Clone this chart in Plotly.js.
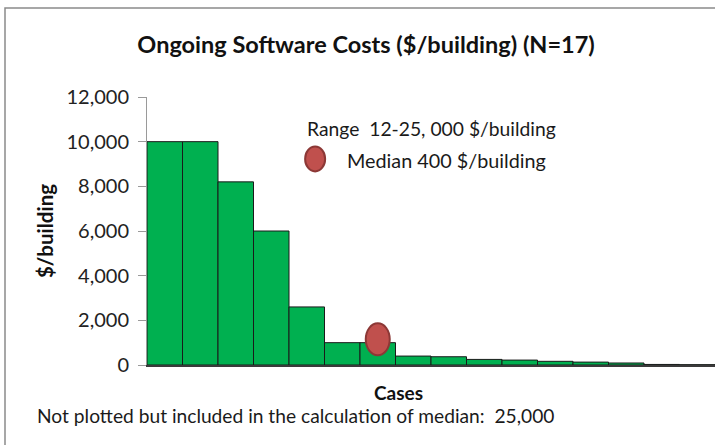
<!DOCTYPE html>
<html>
<head>
<meta charset="utf-8">
<script src="https://cdn.plot.ly/plotly-3.0.1.min.js"></script>
<style>
html,body{margin:0;padding:0;background:#fff;}
#chart{width:715px;height:445px;}
</style>
</head>
<body>
<div id="chart"></div>
<script>
// Data
const cases = [1,2,3,4,5,6,7,8,9,10,11,12,13,14,15,16];
const costs = [10000,10000,8200,6000,2600,1000,1000,400,370,250,220,165,130,90,25,12];
const medianCase = [7];
const medianMarkY = [1150];
const yTicks = [0,2000,4000,6000,8000,10000,12000];
const titleText = "Ongoing Software Costs ($/building) (N=17)";
const yTitle = "$/building";
const xTitle = "Cases";
const rangeText = "Range  12-25, 000 $/building";
const medianText = "Median 400 $/building";
const noteText = "Not plotted but included in the calculation of median:  25,000";

const FONT = "Lato, 'Open Sans', sans-serif";
const red = "#c0504d", redDark = "#8c3836";

const bars = {
  type: "bar",
  x: cases,
  y: costs,
  marker: {color: "#00b050", line: {color: "#1a1a1a", width: 1}},
  hoverinfo: "x+y"
};

const layout = {
  width: 715, height: 445,
  margin: {l: 147, r: 0, t: 97, b: 80},
  paper_bgcolor: "#fff", plot_bgcolor: "#fff",
  showlegend: false,
  bargap: 0,
  font: {family: FONT, color: "#1a1a1a"},
  title: {text: "<b>" + titleText + "</b>", font: {family: FONT, size: 23.5, color: "#111"},
          xref: "container", x: 0.512, xanchor: "center", yref: "container", y: 0.9, yanchor: "middle"},
  xaxis: {range: [0.5, 16.5], showticklabels: false, ticks: "", showgrid: false, zeroline: false,
          showline: true, linecolor: "#3a3a3a", linewidth: 1.5, fixedrange: true},
  yaxis: {range: [0, 12000], tickvals: yTicks, tickformat: ",", showgrid: false, zeroline: false,
          showline: true, linecolor: "#9a9a9a", linewidth: 1, ticks: "outside", ticklen: 8,
          tickcolor: "#9a9a9a", ticklabelstandoff: 5, tickfont: {family: FONT, size: 20, color: "#222"},
          title: {text: "<b>" + yTitle + "</b>", font: {family: FONT, size: 20.5, color: "#111"}, standoff: 7},
          fixedrange: true},
  shapes: [
    {type: "rect", xref: "paper", yref: "paper", x0: -0.25, x1: 1.05, y0: -0.35, y1: 1.332,
     line: {color: "#8a8a8a", width: 1.5}, fillcolor: "rgba(0,0,0,0)", layer: "below"},
    {type: "circle", xref: "x", yref: "y", xsizemode: "pixel", ysizemode: "pixel",
     xanchor: medianCase[0], yanchor: medianMarkY[0], x0: -12, x1: 12, y0: -16, y1: 16,
     fillcolor: red, line: {color: redDark, width: 2}},
    {type: "circle", xref: "paper", yref: "paper", xsizemode: "pixel", ysizemode: "pixel",
     xanchor: 0.296, yanchor: 0.769, x0: -10, x1: 10, y0: -12.5, y1: 12.5,
     fillcolor: red, line: {color: redDark, width: 2}}
  ],
  annotations: [
    {text: rangeText, xref: "paper", yref: "paper", x: 0.278, y: 0.884, xanchor: "left", yanchor: "middle",
     showarrow: false, font: {family: FONT, size: 19.3, color: "#1a1a1a"}},
    {text: medianText, xref: "paper", yref: "paper", x: 0.349, y: 0.765, xanchor: "left", yanchor: "middle",
     showarrow: false, font: {family: FONT, size: 19.8, color: "#1a1a1a"}},
    {text: "<b>" + xTitle + "</b>", xref: "paper", yref: "paper", x: 0.443, y: -0.104, xanchor: "center", yanchor: "middle",
     showarrow: false, font: {family: FONT, size: 19, color: "#111"}},
    {text: noteText, xref: "paper", yref: "paper", x: -0.197, y: -0.187, xanchor: "left", yanchor: "middle",
     showarrow: false, font: {family: FONT, size: 19.2, color: "#1a1a1a"}}
  ]
};

Plotly.newPlot("chart", [bars], layout, {displayModeBar: false, staticPlot: true});
</script>
</body>
</html>
